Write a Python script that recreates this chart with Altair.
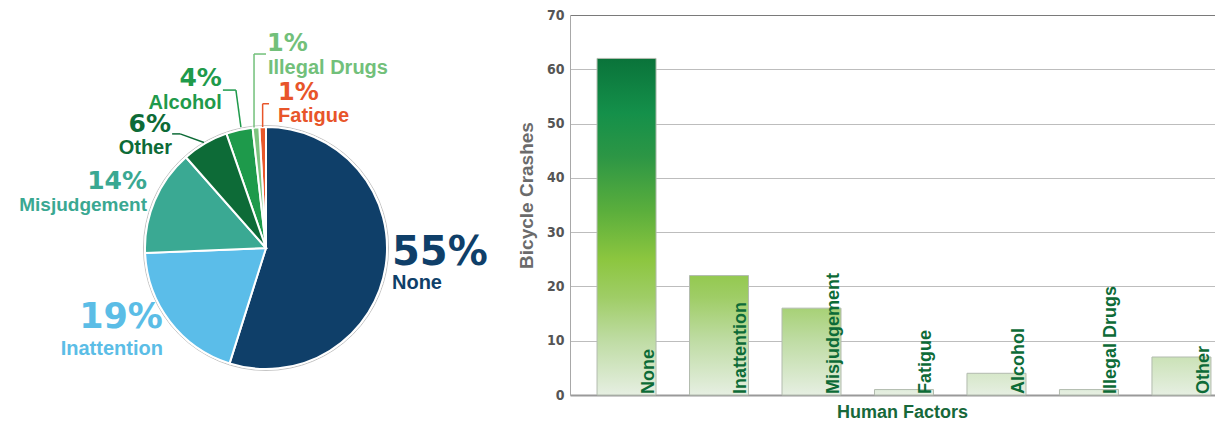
import altair as alt
import pandas as pd

# ---------------- data ----------------
FACTORS = ["None", "Inattention", "Misjudgement", "Fatigue", "Alcohol", "Illegal Drugs", "Other"]
CRASHES = [62, 22, 16, 1, 4, 1, 7]
PIE_ORDER = ["None", "Inattention", "Misjudgement", "Other", "Alcohol", "Illegal Drugs", "Fatigue"]
PIE_COLORS = ["#0f3f69", "#5bbde9", "#3aa993", "#0d6b37", "#1e9a4b", "#7cc47f", "#e9582b"]
LABEL_COLORS = ["#0f3f69", "#5bbde6", "#3aa892", "#0d6b37", "#1f9a4b", "#72c07a", "#e8552a"]
Y_TICKS = [0, 10, 20, 30, 40, 50, 60, 70]
X_TITLE = "Human Factors"
Y_TITLE = "Bicycle Crashes"

df = pd.DataFrame({"factor": FACTORS, "crashes": CRASHES})
df["slice"] = df["factor"].map(PIE_ORDER.index)

# ---------------- pie geometry / styling ----------------
PW, PH = 500, 380
CX, CY, R = 258, 233, 121

# factor: (align, pct size, pct dx, pct dy, name size, name dx, name dy)
LABELS = {
    "None": ("left", 40, 6.4, -1, 20, 6.4, 23),
    "Inattention": ("right", 35, -7, 6.5, 20, -7, 33),
    "Misjudgement": ("right", 25, -7.7, -11.6, 19, -7.7, 10.9),
    "Other": ("right", 25, -34, -11.1, 20, -33, 10.9),
    "Alcohol": ("right", 25, -17.4, -44.4, 20, -17.4, -21.4),
    "Illegal Drugs": ("left", 24, 11.1, -76.9, 20, 12, -53.4),
    "Fatigue": ("left", 24, 15.4, -27.5, 20, 15.4, -5.5),
}
LEADERS = {
    "Other": [(-1, -1), (-24.9, -9.6), (-32.9, -9.6)],
    "Alcohol": [(1.6, -2.9), (-3.4, -39.9), (-16.4, -39.9)],
    "Illegal Drugs": [(-1.9, 0), (-1.9, -73.4), (10.1, -73.4)],
    "Fatigue": [(0, 0), (0, -23.3), (6.4, -23.3)],
}

pie_color = alt.Color("factor:N", scale=alt.Scale(domain=PIE_ORDER, range=PIE_COLORS), legend=None)

ring = alt.Chart(df).mark_arc(radius=R + 1.5, fill="white", stroke="#c4c4c4", strokeWidth=1).encode(
    theta=alt.Theta("sum(crashes):Q"), x=alt.value(CX), y=alt.value(CY)
)
slices = alt.Chart(df).mark_arc(radius=R, stroke="white", strokeWidth=2).encode(
    theta=alt.Theta("crashes:Q", stack=True),
    color=pie_color,
    order=alt.Order("slice:Q", sort="ascending"),
    x=alt.value(CX),
    y=alt.value(CY),
)

pie_base = (
    alt.Chart(df)
    .transform_window(cum="sum(crashes)", sort=[alt.SortField("slice", order="ascending")])
    .transform_joinaggregate(total="sum(crashes)")
    .transform_calculate(
        mid="2*PI*(datum.cum - datum.crashes/2)/datum.total",
    )
    .transform_calculate(
        ex=f"{CX} + {R}*sin(datum.mid)",
        ey=f"{CY} - {R}*cos(datum.mid)",
        pct="round(100*datum.crashes/datum.total) + '%'",
    )
)

pie_layers = [ring, slices]
for f, (align, ps, pdx, pdy, ns, ndx, ndy) in LABELS.items():
    col = LABEL_COLORS[PIE_ORDER.index(f)]
    sub = pie_base.transform_filter(alt.datum.factor == f)
    pie_layers.append(
        sub.mark_text(
            align=align, baseline="alphabetic", dx=pdx, dy=pdy, font="DejaVu Sans",
            fontWeight="bold", fontSize=ps, color=col,
        ).encode(
            x=alt.X("ex:Q", scale=None, axis=None),
            y=alt.Y("ey:Q", scale=None, axis=None),
            text="pct:N",
        )
    )
    pie_layers.append(
        sub.mark_text(
            align=align, baseline="alphabetic", dx=ndx, dy=ndy, font="Liberation Sans",
            fontWeight="bold", fontSize=ns, color=col,
        ).encode(
            x=alt.X("ex:Q", scale=None, axis=None),
            y=alt.Y("ey:Q", scale=None, axis=None),
            text="factor:N",
        )
    )
    if f in LEADERS:
        pts = LEADERS[f]
        for (a, b) in zip(pts[:-1], pts[1:]):
            pie_layers.append(
                sub.transform_calculate(
                    lx1=f"datum.ex + ({a[0]})", ly1=f"datum.ey + ({a[1]})",
                    lx2=f"datum.ex + ({b[0]})", ly2=f"datum.ey + ({b[1]})",
                ).mark_rule(color=col, strokeWidth=1.5).encode(
                    x=alt.X("lx1:Q", scale=None, axis=None),
                    y=alt.Y("ly1:Q", scale=None, axis=None),
                    x2="lx2:Q",
                    y2="ly2:Q",
                )
            )

pie = alt.layer(*pie_layers).properties(width=PW, height=PH)

# ---------------- bar chart ----------------
BW, BH = 645, 380
GRAD = [(62, "#0a733a"), (52, "#14904a"), (44, "#2c9645"), (34, "#5aae3c"),
        (25, "#8cc63f"), (18, "#9fcd66"), (10, "#bfdca4"), (0, "#e6efe2")]
COND_FONT = "DejaVu Sans Condensed, Liberation Sans"


def _hex(c):
    return [int(c[i:i + 2], 16) for i in (1, 3, 5)]


def level_color(v):
    for (l1, c1), (l0, c0) in zip(GRAD[:-1], GRAD[1:]):
        if l0 <= v <= l1:
            t = (v - l0) / (l1 - l0) if l1 != l0 else 0
            a, b = _hex(c0), _hex(c1)
            return "#" + "".join(f"{round(x + (y - x) * t):02x}" for x, y in zip(a, b))
    return GRAD[0][1]


def bar_gradient(v):
    stops = [alt.GradientStop(color=level_color(v), offset=0)]
    for lvl, c in GRAD:
        if lvl < v:
            stops.append(alt.GradientStop(color=c, offset=(v - lvl) / v))
    return alt.LinearGradient(gradient="linear", stops=stops, x1=0, x2=0, y1=0, y2=1)


x_enc = alt.X(
    "factor:N",
    sort=FACTORS,
    scale=alt.Scale(domain=FACTORS, paddingInner=0.362, paddingOuter=0.168, align=0.87),
    axis=alt.Axis(
        labels=False, ticks=False, domainColor="#9a9a9a", domainWidth=2,
        title=X_TITLE, titleFont="Liberation Sans", titleFontSize=18,
        titleFontWeight="bold", titleColor="#17683a", titlePadding=8, titleX=332,
    ),
)
y_enc = alt.Y(
    "crashes:Q",
    scale=alt.Scale(domain=[0, 70], nice=False),
    axis=alt.Axis(
        values=Y_TICKS, grid=True,
        gridColor=alt.condition("datum.value == 70", alt.value("#7a7a7a"), alt.value("#bdbdbd")),
        gridWidth=1, tickSize=0, domainColor="#a8a8a8",
        labelFont=COND_FONT, labelFontWeight="bold", labelFontSize=14,
        labelColor="#555555", labelPadding=6,
        title=Y_TITLE, titleFont="Liberation Sans", titleFontSize=19, titleFontWeight="bold",
        titleColor="#6b6b6b", titlePadding=10, titleY=180,
    ),
)

bar_layers = []
for f, v in zip(FACTORS, CRASHES):
    bar_layers.append(
        alt.Chart(df).transform_filter(alt.datum.factor == f)
        .mark_bar(color=bar_gradient(v), stroke="#b2bbae", strokeWidth=1)
        .encode(x=x_enc, y=y_enc)
    )

bar_text = alt.Chart(df).mark_text(
    angle=270, align="left", baseline="alphabetic", dx=1, font="Liberation Sans",
    fontWeight="bold", fontSize=18, color="#0d6b37",
).encode(
    x=alt.X("factor:N", sort=FACTORS, bandPosition=0.96),
    y=alt.datum(0),
    text="factor:N",
)

bars = alt.layer(*bar_layers, bar_text).properties(width=BW, height=BH)

chart = (
    alt.hconcat(pie, bars, spacing=9)
    .properties(padding={"left": 0, "top": 0, "right": 0, "bottom": 0}, background="white")
    .configure_view(strokeWidth=0)
)

chart.save("out.html", embed_options={"renderer": "svg", "actions": False})
